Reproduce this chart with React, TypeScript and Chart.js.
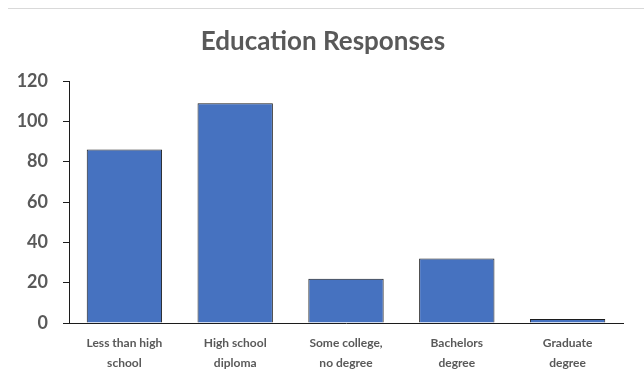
import React, { useEffect, useRef } from "react";
import { Chart, registerables } from "chart.js";

Chart.register(...registerables);

const TITLE = "Education Responses";
const categories: string[][] = [
  ["Less than high", "school"],
  ["High school", "diploma"],
  ["Some college,", "no degree"],
  ["Bachelors", "degree"],
  ["Graduate", "degree"],
];
const responses: number[] = [86, 109, 22, 32, 2];
const yMin = 0;
const yMax = 120;
const yStep = 20;

const TEXT = "#595959";
const FONT = "Lato, 'Open Sans', sans-serif";

// Title and the thin frame line at the top of the chart box
const decorPlugin = {
  id: "decor",
  beforeDraw(chart: any) {
    const { ctx, width } = chart;
    ctx.save();
    ctx.strokeStyle = "#d9d9d9";
    ctx.lineWidth = 1;
    ctx.beginPath();
    ctx.moveTo(8, 8.5);
    ctx.lineTo(width, 8.5);
    ctx.stroke();
    ctx.fillStyle = TEXT;
    ctx.font = `bold 26px ${FONT}`;
    ctx.textAlign = "center";
    ctx.textBaseline = "middle";
    ctx.fillText(TITLE, 323, 42);
    ctx.restore();
  },
};

export default function App() {
  const ref = useRef<HTMLCanvasElement | null>(null);

  useEffect(() => {
    if (!ref.current) return;
    const chart = new Chart(ref.current, {
      type: "bar",
      data: {
        labels: categories,
        datasets: [
          {
            data: responses,
            backgroundColor: "#4672C0",
            borderColor: "#1c1c1c",
            borderWidth: 1,
            barPercentage: 0.68,
            categoryPercentage: 1,
          },
        ],
      },
      options: {
        animation: false,
        responsive: false,
        devicePixelRatio: 1,
        layout: { padding: { top: 81, left: 0, right: 21, bottom: 0 } },
        plugins: {
          legend: { display: false },
          title: { display: false },
          tooltip: { enabled: false },
        },
        scales: {
          x: {
            grid: { display: false, drawTicks: false },
            border: { display: true, color: "#1c1c1c", width: 1 },
            ticks: {
              color: TEXT,
              padding: 10,
              maxRotation: 0,
              autoSkip: false,
              font: { family: FONT, size: 12, weight: "bold", lineHeight: 1.65 },
            },
            afterFit(scale: any) {
              scale.height = 52;
            },
          },
          y: {
            min: yMin,
            max: yMax,
            grid: {
              display: true,
              drawOnChartArea: false,
              drawTicks: true,
              tickLength: 6,
              color: "#1c1c1c",
            },
            border: { display: true, color: "#1c1c1c", width: 1 },
            ticks: {
              stepSize: yStep,
              color: TEXT,
              padding: 15,
              font: { family: FONT, size: 18, weight: "bold" },
            },
            afterFit(scale: any) {
              scale.width = 69;
            },
          },
        },
      },
      plugins: [decorPlugin],
    });
    return () => chart.destroy();
  }, []);

  return (
    <div style={{ position: "absolute", left: 0, top: 0, width: 644, height: 375, background: "#fff" }}>
      <canvas ref={ref} width={644} height={375} style={{ display: "block" }} />
    </div>
  );
}
